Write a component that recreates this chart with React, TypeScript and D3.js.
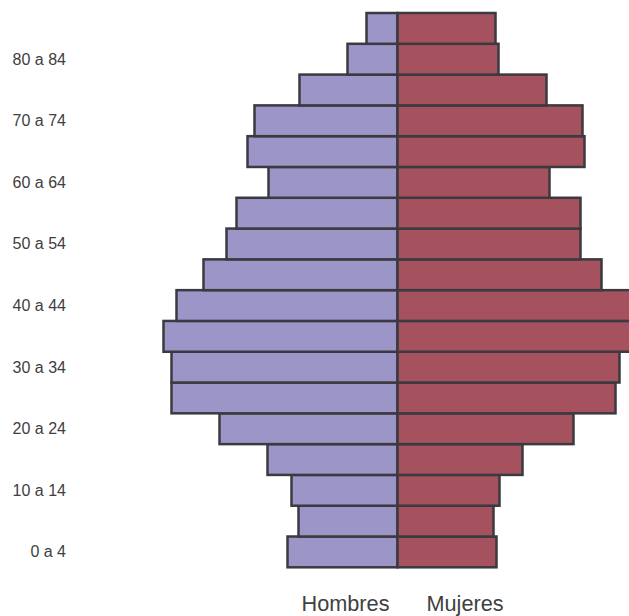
import React from "react";
import * as d3 from "d3";

const ageGroups = [
  "0 a 4", "5 a 9", "10 a 14", "15 a 19", "20 a 24", "25 a 29", "30 a 34", "35 a 39",
  "40 a 44", "45 a 49", "50 a 54", "55 a 59", "60 a 64", "65 a 69", "70 a 74", "75 a 79",
  "80 a 84", "85 y más",
];
const hombres = [110, 99, 106, 130, 178, 226, 226, 234, 221, 194, 171, 161, 129, 150, 143, 98, 50, 31];
const mujeres = [99, 96, 102, 125, 176, 218, 222, 250, 242, 204, 183, 183, 152, 187, 185, 149, 101, 98];
const tickLabels = ["0 a 4", "10 a 14", "20 a 24", "30 a 34", "40 a 44", "50 a 54", "60 a 64", "70 a 74", "80 a 84"];

const W = 629;
const H = 616;
const CX = 397.5;

export default function App() {
  const y = d3
    .scaleBand<string>()
    .domain([...ageGroups].reverse())
    .range([13, 567.3])
    .padding(0);
  const x = d3.scaleLinear().domain([0, 250]).range([0, 250]);
  const bw = y.bandwidth();
  const stroke = "#3a3a40";
  const sw = 2.5;

  return (
    <svg
      width={W}
      height={H}
      style={{ position: "absolute", left: 0, top: 0, display: "block" }}
      fontFamily="'Liberation Sans', Arial, sans-serif"
    >
      <rect width={W} height={H} fill="#ffffff" />
      {ageGroups.map((g, i) => (
        <rect
          key={"h" + g}
          x={CX - x(hombres[i])}
          y={y(g)!}
          width={x(hombres[i])}
          height={bw}
          fill="#9b95c8"
          stroke={stroke}
          strokeWidth={sw}
        />
      ))}
      {ageGroups.map((g, i) => (
        <rect
          key={"m" + g}
          x={CX}
          y={y(g)!}
          width={x(mujeres[i])}
          height={bw}
          fill="#a5525e"
          stroke={stroke}
          strokeWidth={sw}
        />
      ))}
      {tickLabels.map((t) => (
        <text
          key={t}
          x={66}
          y={y(t)! + bw / 2}
          textAnchor="end"
          dominantBaseline="central"
          fontSize={16}
          fill="#404040"
        >
          {t}
        </text>
      ))}
      <text x={345.5} y={610.5} textAnchor="middle" fontSize={22} fill="#404040" textLength={88} lengthAdjust="spacingAndGlyphs">
        Hombres
      </text>
      <text x={465} y={610.5} textAnchor="middle" fontSize={22} fill="#404040" textLength={77} lengthAdjust="spacingAndGlyphs">
        Mujeres
      </text>
    </svg>
  );
}
